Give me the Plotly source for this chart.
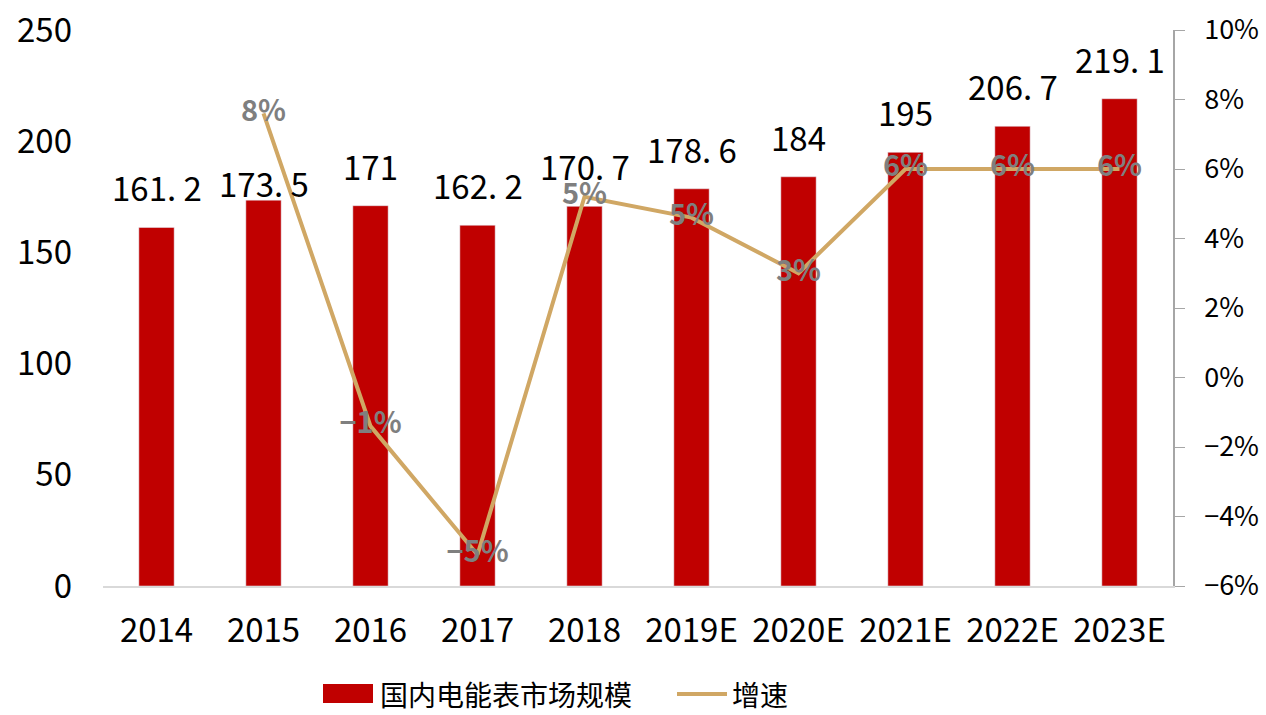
import plotly.graph_objects as go

years = ["2014", "2015", "2016", "2017", "2018", "2019E", "2020E", "2021E", "2022E", "2023E"]
market = [161.2, 173.5, 171, 162.2, 170.7, 178.6, 184, 195, 206.7, 219.1]
growth_years = ["2015", "2016", "2017", "2018", "2019E", "2020E", "2021E", "2022E", "2023E"]
growth = [0.076, -0.014, -0.051, 0.052, 0.046, 0.030, 0.060, 0.060, 0.060]
bar_name = "国内电能表市场规模"
line_name = "增速"

BAR_COLOR = "#C00000"
LINE_COLOR = "#D0A764"
FONT = "Noto Sans CJK SC"

L, R, T, B = 103, 93, 30, 129
W, H = 1266, 715
pw, ph = W - L - R, H - T - B

def px_x(px):
    return (px - L) / pw

def px_y(py):
    return (H - B - py) / ph

growth_text = [f"{round(g * 100):d}%".replace("-", "\u2212") for g in growth]

fig = go.Figure()
fig.add_trace(go.Bar(
    x=years, y=market, name=bar_name, marker_color=BAR_COLOR,
    width=0.33, yaxis="y", showlegend=False,
))
fig.add_trace(go.Scatter(
    x=growth_years, y=growth, name=line_name, yaxis="y2",
    mode="lines+text", line=dict(color=LINE_COLOR, width=4),
    text=growth_text, textposition="middle center",
    textfont=dict(family=FONT, size=29, color="#7F7F7F", weight="bold"),
    showlegend=False, cliponaxis=False,
))

annotations = []
for i, v in enumerate(market):
    label = f"{v:g}".replace(".", ". ")
    shift = 17 if i == 1 else 40
    annotations.append(dict(
        x=i, y=v, xref="x", yref="y", text=label, showarrow=False,
        yanchor="middle", yshift=shift,
        font=dict(family=FONT, size=33, color="#000000"),
    ))

# custom legend
LEG_Y = 694
annotations.append(dict(
    x=px_x(378), y=px_y(LEG_Y), xref="paper", yref="paper", text=bar_name,
    showarrow=False, xanchor="left", yanchor="middle",
    font=dict(family=FONT, size=28, color="#000000"),
))
annotations.append(dict(
    x=px_x(730), y=px_y(LEG_Y), xref="paper", yref="paper", text=line_name,
    showarrow=False, xanchor="left", yanchor="middle",
    font=dict(family=FONT, size=28, color="#000000"),
))
shapes = [
    dict(type="rect", xref="paper", yref="paper",
         x0=px_x(323), x1=px_x(373), y0=px_y(LEG_Y + 9), y1=px_y(LEG_Y - 10),
         fillcolor=BAR_COLOR, line=dict(width=0)),
    dict(type="line", xref="paper", yref="paper",
         x0=px_x(677), x1=px_x(727), y0=px_y(LEG_Y), y1=px_y(LEG_Y),
         line=dict(color=LINE_COLOR, width=4)),
]

fig.update_layout(
    width=W, height=H,
    margin=dict(l=L, r=R, t=T, b=B),
    paper_bgcolor="white", plot_bgcolor="white",
    font=dict(family=FONT, size=33, color="#000000"),
    xaxis=dict(
        type="category", range=[-0.5, 9.5], automargin=False,
        showline=True, linecolor="#D9D9D9", linewidth=2,
        ticks="", tickfont=dict(size=33), showgrid=False, ticklabelstandoff=14,
    ),
    yaxis=dict(
        range=[0, 250], dtick=50, showgrid=False, showline=False, automargin=False,
        ticks="", tickfont=dict(size=33), ticklabelstandoff=30, zeroline=False,
    ),
    yaxis2=dict(
        range=[-0.06, 0.10], dtick=0.02, tickformat=".0%", overlaying="y",
        side="right", showgrid=False, showline=True, linecolor="#A6A6A6",
        linewidth=1.5, ticks="outside", ticklen=10, tickcolor="#A6A6A6",
        tickfont=dict(size=27), zeroline=False, ticklabelstandoff=14,
        automargin=False,
    ),
    annotations=annotations,
    shapes=shapes,
    showlegend=False,
)

fig.write_html(
    "out.html",
    config={"displayModeBar": False},
    post_script="document.body.style.margin='0';document.body.style.overflow='hidden';",
)
